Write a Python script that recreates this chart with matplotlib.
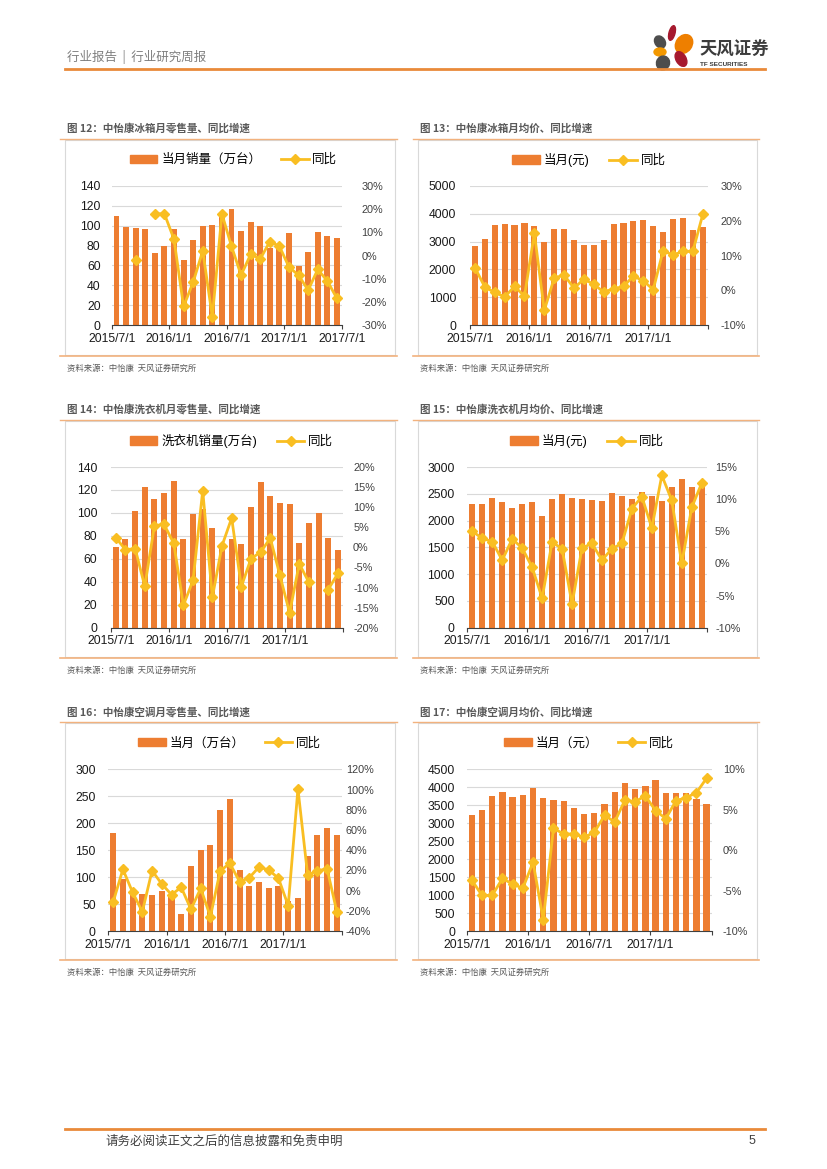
import numpy as np
import matplotlib
matplotlib.use('Agg')
import matplotlib.pyplot as plt
from matplotlib.patches import Rectangle, Ellipse, Patch
from matplotlib.lines import Line2D

plt.rcParams['font.family'] = ['Liberation Sans', 'Noto Sans CJK SC']

# 颜色
BAR_COLOR = '#ED7D31'
LINE_COLOR = '#F9BE22'
ORANGE_RULE = '#E98A3A'
BOX_RULE = '#F2B27E'
GRAY_TEXT = '#7F7F7F'

W, H = 827, 1169

# 横轴日期标签
DATE_LABELS = ['2015/7/1', '2016/1/1', '2016/7/1', '2017/1/1', '2017/7/1']

# 图12 冰箱月零售量（万台）及同比（%）
FRIDGE_QTY = [110, 99, 98, 97, 73, 80, 97, 65, 86, 100, 101, 109,
              117, 95, 104, 100, 78, 80, 93, 59, 74, 94, 90, 88]
FRIDGE_QTY_YOY = [None, None, -2, None, 18, 18, 7, -22, -11.5, 2, -26.5, 18,
                  4, -8.5, 0.5, -1.5, 6, 4, -5, -8.5, -15, -6, -11, -18.5]

# 图13 冰箱月均价（元）及同比
FRIDGE_PRICE = [2850, 3080, 3600, 3650, 3590, 3680, 3570, 2990, 3450, 3460, 3070, 2890,
                2890, 3050, 3620, 3680, 3730, 3760, 3570, 3330, 3820, 3850, 3420, 3520]
FRIDGE_PRICE_YOY = [6.5, 0.9, -0.6, -1.9, 1.1, -1.7, 16.4, -5.8, 3.5, 4.4, 0.6, 3.2,
                    1.7, -0.5, 0.4, 1.1, 4.1, 2.7, 0.2, 11.4, 10.1, 11.2, 11.2, 21.8]

# 图14 洗衣机月零售量（万台）及同比
WASHER_QTY = [70, 77, 102, 123, 112, 117, 128, 77, 99, 103, 87, 70,
              77, 73, 105, 127, 115, 109, 108, 74, 91, 100, 78, 68]
WASHER_QTY_YOY = [2.4, -0.6, -0.3, -9.7, 5.4, 5.7, 1, -14.4, -8.2, 14.1, -12.4, 0.4,
                  7.3, -9.8, -2.8, -1.2, 2.3, -7, -16.3, -4.1, -8.7, None, -10.5, -6.5]

# 图15 洗衣机月均价（元）及同比
WASHER_PRICE = [2300, 2315, 2415, 2340, 2235, 2300, 2340, 2085, 2395, 2495, 2420, 2400,
                2380, 2360, 2510, 2460, 2400, 2530, 2465, 2360, 2625, 2775, 2625, 2715]
WASHER_PRICE_YOY = [5, 3.9, 3.4, 0.5, 3.8, 2.4, -0.6, -5.4, 3.3, 2.3, -6.3, 2.4,
                    3.1, 0.5, 2.3, 3.1, 8.5, 10.4, 5.5, 13.7, 9.8, 0, 8.7, 12.5]

# 图16 空调月零售量（万台）及同比
AC_QTY = [181, 97, 68, 68, 67, 74, 65, 32, 121, 150, 160, 225,
          244, 113, 84, 90, 80, 83, 55, 61, 140, 178, 192, 178]
AC_QTY_YOY = [-11.3, 21, -1.7, -20.9, 19.7, 6.5, -4, 3.2, -18.6, 2.2, -25.8, 19.4,
              27, 8.8, 12.8, 23.3, 20.4, 12.1, -14.9, 100.6, 15.4, 19.7, 21.4, -20.9]

# 图17 空调月均价（元）及同比
AC_PRICE = [3220, 3380, 3750, 3870, 3730, 3780, 3990, 3690, 3640, 3610, 3430, 3265,
            3290, 3525, 3880, 4110, 3940, 4025, 4190, 3840, 3850, 3840, 3670, 3545]
AC_PRICE_YOY = [-3.7, -5.6, -5.6, -3.5, -4.2, -4.7, -1.5, -8.6, 2.7, 2, 2, 1.6,
                2.2, 4.3, 3.5, 6.2, 6, 6.7, 4.9, 3.9, 6.1, 6.5, 7.1, 8.9]


def px_rect(x0, x1, ytop, ybot):
    return [x0 / W, 1 - ybot / H, (x1 - x0) / W, (ybot - ytop) / H]


def draw_panel(fig, rect, bars, yoy, left_lim, left_step, right_lim, right_step,
               bar_name, show_last, legend_x, lpad, rpad):
    x0, x1, ytop, ybot = rect
    ax = fig.add_axes(px_rect(*rect))
    ax.patch.set_alpha(0)
    idx = np.arange(len(bars))
    ax.bar(idx, bars, width=0.62, color=BAR_COLOR, zorder=2)
    ax.set_xlim(-0.5, len(bars) - 0.5)
    ax.set_ylim(*left_lim)
    ax.set_yticks(np.arange(left_lim[0], left_lim[1] + left_step / 2, left_step))
    ax.yaxis.grid(True, color='#D9D9D9', linewidth=0.8)
    ax.set_axisbelow(True)
    for s in ['left', 'right', 'top']:
        ax.spines[s].set_visible(False)
    ax.spines['bottom'].set_color('#404040')
    ax.tick_params(axis='y', length=0, pad=lpad, labelsize=8.7, labelcolor='#1a1a1a')

    labels = list(DATE_LABELS)
    if not show_last:
        labels[-1] = ''
    ax.set_xticks(np.arange(len(labels)) * 6 - 0.5)
    ax.set_xticklabels(labels)
    ax.tick_params(axis='x', length=3, direction='out', pad=2.5, labelsize=8.7,
                   color='#404040', labelcolor='#1a1a1a')

    ax2 = ax.twinx()
    vals = np.array([np.nan if v is None else v for v in yoy], dtype=float)
    ax2.plot(idx, vals, color=LINE_COLOR, linewidth=2, marker='D', markersize=4.8, zorder=3)
    ax2.set_ylim(*right_lim)
    ax2.set_yticks(np.arange(right_lim[0], right_lim[1] + right_step / 2, right_step))
    ax2.yaxis.set_major_formatter(lambda v, p: f'{v:.0f}%')
    for s in ['left', 'right', 'top', 'bottom']:
        ax2.spines[s].set_visible(False)
    ax2.tick_params(axis='y', length=0, pad=rpad, labelsize=7.8, labelcolor='#404040')

    handles = [Patch(color=BAR_COLOR),
               Line2D([0], [0], color=LINE_COLOR, linewidth=2, marker='D', markersize=4.8)]
    ax2.legend(handles, [bar_name, '同比'], loc='center',
               bbox_to_anchor=(legend_x, 1 + 26 / (ybot - ytop)), ncol=2, frameon=False,
               fontsize=9, handlelength=2.2, handleheight=0.65, columnspacing=1.6,
               handletextpad=0.3)
    return ax


def draw_block(bg, x_left, x_right, title, y_title, y_top, y_bot):
    bg.text(x_left + 7, y_title, title, fontsize=7.6, fontweight='bold', color='#595959',
            va='center', ha='left', family=['Noto Sans CJK SC'])
    bg.plot([x_left, x_right], [y_top - 1, y_top - 1], color=BOX_RULE, linewidth=1)
    bg.add_patch(Rectangle((x_left + 5, y_top), x_right - x_left - 7, y_bot - y_top,
                           facecolor='white', edgecolor='#D9D9D9', linewidth=0.8))
    bg.plot([x_left, x_right], [y_bot + 1, y_bot + 1], color=BOX_RULE, linewidth=1.2)
    bg.text(x_left + 7, y_bot + 13, '资料来源：中怡康  天风证券研究所', fontsize=6,
            color='#595959', va='center', ha='left', family=['Noto Sans CJK SC'])


fig = plt.figure(figsize=(W / 100, H / 100), dpi=100)
fig.patch.set_facecolor('white')

bg = fig.add_axes([0, 0, 1, 1])
bg.set_xlim(0, W)
bg.set_ylim(H, 0)
bg.axis('off')

# 页眉
bg.text(67, 57, '行业报告  |  行业研究周报', fontsize=9, color=GRAY_TEXT, va='center',
        ha='left', family=['Noto Sans CJK SC'])
bg.plot([65, 765], [69, 69], color=ORANGE_RULE, linewidth=2)

# 标志
logo = [(672, 33, 6, 15, 15, '#A6192E'),
        (684, 44, 16, 20, 35, '#EE7F00'),
        (660, 42, 10, 13, -35, '#4D4D4D'),
        (660, 52, 12, 8, 0, '#F39800'),
        (681, 59, 10, 16, -30, '#A6192E'),
        (663, 63, 13, 14, 20, '#4D4D4D')]
for cx, cy, ew, eh, ang, col in logo:
    bg.add_patch(Ellipse((cx, cy), ew, eh, angle=ang, color=col))
bg.text(699, 50, '天风证券', fontsize=12.5, fontweight='bold', color='#3C3C3C',
        va='center', ha='left', family=['Noto Sans CJK SC'])
bg.text(700, 64, 'TF SECURITIES', fontsize=4.6, fontweight='bold', color='#3C3C3C',
        va='center', ha='left')

# 图框
draw_block(bg, 60, 397, '图 12：中怡康冰箱月零售量、同比增速', 128, 140, 355)
draw_block(bg, 413, 759, '图 13：中怡康冰箱月均价、同比增速', 128, 140, 355)
draw_block(bg, 60, 397, '图 14：中怡康洗衣机月零售量、同比增速', 409, 421, 657)
draw_block(bg, 413, 759, '图 15：中怡康洗衣机月均价、同比增速', 409, 421, 657)
draw_block(bg, 60, 397, '图 16：中怡康空调月零售量、同比增速', 712, 723, 959)
draw_block(bg, 413, 759, '图 17：中怡康空调月均价、同比增速', 712, 723, 959)

# 页脚
bg.plot([65, 765], [1129, 1129], color=ORANGE_RULE, linewidth=2)
bg.text(106, 1141, '请务必阅读正文之后的信息披露和免责申明', fontsize=9, color='#404040',
        va='center', ha='left', family=['Noto Sans CJK SC'])
bg.text(755, 1141, '5', fontsize=9, color='#404040', va='center', ha='right')

# 图12-17
draw_panel(fig, (111.7, 341.7, 186, 325), FRIDGE_QTY, FRIDGE_QTY_YOY, (0, 140), 20,
           (-30, 30), 10, '当月销量（万台）', True, 0.53, 8, 14)
draw_panel(fig, (470, 707.7, 186, 325), FRIDGE_PRICE, FRIDGE_PRICE_YOY, (0, 5000), 1000,
           (-10, 30), 10, '当月(元)', False, 0.5, 10, 9)
draw_panel(fig, (111, 342.7, 467, 627.7), WASHER_QTY, WASHER_QTY_YOY, (0, 140), 20,
           (-20, 20), 5, '洗衣机销量(万台)', False, 0.52, 10, 7.5)
draw_panel(fig, (467.3, 706.7, 467, 627.7), WASHER_PRICE, WASHER_PRICE_YOY, (0, 3000), 500,
           (-10, 15), 5, '当月(元)', False, 0.5, 9, 6)
draw_panel(fig, (108.3, 341.7, 769.3, 931), AC_QTY, AC_QTY_YOY, (0, 300), 50,
           (-40, 120), 20, '当月（万台）', False, 0.52, 9, 3)
draw_panel(fig, (466.7, 711.7, 769.3, 931), AC_PRICE, AC_PRICE_YOY, (0, 4500), 500,
           (-10, 10), 5, '当月（元）', False, 0.5, 8.5, 8)

fig.savefig('out.png', dpi=100)
